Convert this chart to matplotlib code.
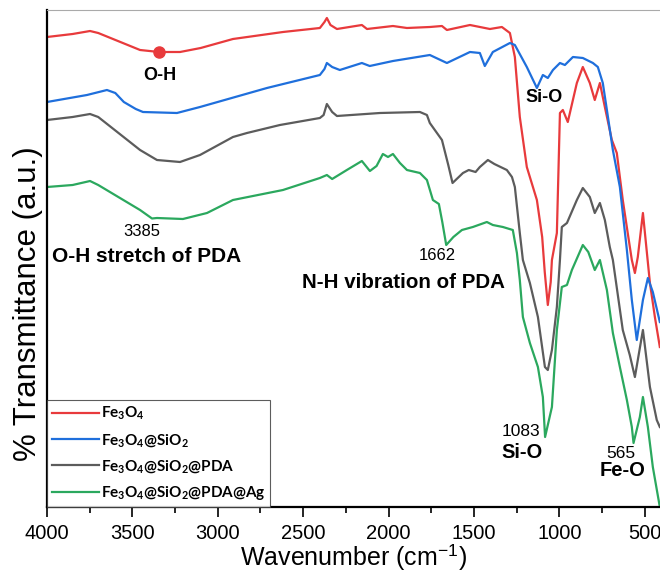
import matplotlib
matplotlib.use("Agg")
import matplotlib.pyplot as plt
from matplotlib.ticker import MultipleLocator, NullLocator

plt.rcParams["font.family"] = ["Liberation Sans", "DejaVu Sans"]
plt.rcParams["mathtext.fontset"] = "custom"
plt.rcParams["mathtext.rm"] = "Liberation Sans"
plt.rcParams["mathtext.bf"] = "Lato:bold"
plt.rcParams["mathtext.default"] = "bf"

# FTIR spectra, wavenumber (cm-1) vs offset transmittance (a.u.)
wn_fe3o4 = [4000, 3850, 3748, 3700, 3455, 3344, 3221, 3100, 2911, 2618, 2402, 2375,
            2361, 2340, 2302, 2156, 2126, 1974, 1892, 1758, 1687, 1658, 1523, 1406,
            1336, 1289, 1260, 1231, 1190, 1131, 1100, 1085, 1067, 1050, 1043, 1014,
            996, 979, 950, 897, 862, 821, 792, 762, 733, 692, 663, 628, 599, 575,
            557, 540, 510, 469, 440, 411]
t_fe3o4 = [470, 473, 476, 474, 457, 455, 455, 459, 468, 475, 479, 485,
           489, 482, 478, 482, 478, 481, 479, 480, 481, 477, 482, 478,
           480, 474, 450, 390, 340, 307, 270, 235, 202, 225, 247, 274,
           394, 397, 385, 424, 440, 424, 407, 424, 400, 367, 354, 307, 274, 247,
           234, 250, 294, 224, 190, 160]

wn_fe3o4_sio2 = [4000, 3766, 3649, 3600, 3550, 3480, 3438, 3239, 3104, 2712, 2402, 2375,
                 2361, 2330, 2285, 2156, 2110, 1974, 1758, 1658, 1523, 1465, 1436, 1389,
                 1289, 1260, 1190, 1131, 1096, 1067, 1037, 996, 967, 920, 862, 803, 774,
                 745, 721, 686, 645, 604, 575, 546, 510, 481, 452, 411]
t_fe3o4_sio2 = [405, 412, 417, 414, 405, 398, 395, 394, 400, 419, 432, 438,
                444, 440, 437, 444, 441, 446, 452, 444, 455, 454, 441, 455,
                464, 462, 440, 419, 432, 429, 437, 444, 442, 450, 449, 444, 440,
                424, 397, 357, 320, 257, 207, 167, 207, 229, 215, 185]

wn_pda = [4000, 3850, 3748, 3700, 3455, 3356, 3221, 3104, 2911, 2829, 2636, 2402,
          2380, 2361, 2330, 2302, 2050, 1816, 1775, 1758, 1687, 1650, 1625, 1564,
          1530, 1490, 1465, 1418, 1380, 1307, 1277, 1260, 1231, 1213, 1172, 1125,
          1084, 1067, 1043, 1014, 996, 985, 955, 897, 862, 821, 792, 762, 733,
          704, 686, 628, 587, 557, 510, 469, 429, 411]
t_pda = [387, 390, 393, 390, 357, 347, 345, 352, 370, 374, 382, 389,
         392, 403, 395, 391, 394, 395, 392, 384, 367, 342, 324, 334,
         337, 335, 340, 347, 343, 337, 330, 320, 274, 247, 224, 190,
         140, 137, 157, 200, 247, 280, 284, 307, 319, 310, 294, 304, 287,
         260, 247, 177, 152, 130, 177, 120, 87, 80]

wn_pda_ag = [4000, 3850, 3748, 3700, 3455, 3385, 3356, 3204, 3063, 2911, 2618, 2402,
             2361, 2330, 2244, 2156, 2109, 2070, 2033, 2003, 1974, 1933, 1892, 1816,
             1775, 1740, 1705, 1685, 1662, 1620, 1570, 1506, 1424, 1389, 1330, 1272,
             1248, 1231, 1213, 1172, 1125, 1096, 1083, 1043, 1014, 985, 955, 926,
             862, 830, 792, 762, 721, 686, 645, 604, 575, 565, 528, 510, 481, 452, 411]
t_pda_ag = [320, 322, 326, 322, 297, 288.5, 289, 288, 294, 307, 317, 329,
            332, 328, 337, 346, 336, 341, 353, 350, 353, 344, 337, 334,
            327, 307, 303, 285, 262, 270, 277, 280, 285, 282, 280, 277,
            254, 227, 190, 164, 140, 110, 70, 100, 177, 220, 222, 237,
            262, 255, 237, 247, 217, 174, 140, 107, 80, 64, 90, 110, 80, 40, 0]

labels = [r"Fe$_3$O$_4$", r"Fe$_3$O$_4$@SiO$_2$",
          r"Fe$_3$O$_4$@SiO$_2$@PDA", r"Fe$_3$O$_4$@SiO$_2$@PDA@Ag"]
colors = ["#e83a3c", "#1f6fdc", "#5c5c5c", "#2ba85e"]

fig = plt.figure(figsize=(6.6, 5.78), dpi=100)
ax = fig.add_axes([47 / 660, 71 / 578, 613 / 660, 497 / 578])

series = [(wn_fe3o4, t_fe3o4), (wn_fe3o4_sio2, t_fe3o4_sio2),
          (wn_pda, t_pda), (wn_pda_ag, t_pda_ag)]
for (x, y), c, lab in zip(series, colors, labels):
    ax.plot(x, y, color=c, lw=1.6, label=lab, solid_joinstyle="round")

# marker on the O-H band of bare Fe3O4
ax.plot(3344, 455, "o", color=colors[0], ms=8, zorder=5)

bold = dict(fontweight="bold", color="black")
ax.text(3338, 431, "O-H", ha="center", va="center", fontsize=13, **bold)
ax.text(1090, 410, "Si-O", ha="center", va="center", fontsize=13, **bold)
ax.text(3444, 275, "3385", ha="center", va="center", fontsize=12)
ax.text(3971, 250, "O-H stretch of PDA", ha="left", va="center", fontsize=15, **bold)
ax.text(1717, 251, "1662", ha="center", va="center", fontsize=12)
ax.text(2507, 224, "N-H vibration of PDA", ha="left", va="center", fontsize=14.8, **bold)
ax.text(1114, 75, "1083", ha="right", va="center", fontsize=12.5)
ax.text(1336, 55, "Si-O", ha="left", va="center", fontsize=14.5, **bold)
ax.text(637, 54, "565", ha="center", va="center", fontsize=12.5)
ax.text(627, 37, "Fe-O", ha="center", va="center", fontsize=14.5, **bold)

ax.set_xlim(4000, 410)
ax.set_ylim(0, 497)
ax.xaxis.set_major_locator(MultipleLocator(500))
ax.xaxis.set_minor_locator(MultipleLocator(250))
ax.yaxis.set_major_locator(NullLocator())
ax.tick_params(axis="x", which="major", length=7, width=1.2, labelsize=14.5, pad=5)
ax.tick_params(axis="x", which="minor", length=4, width=1.2)

ax.spines["left"].set_linewidth(1.6)
ax.spines["bottom"].set_linewidth(1.6)
ax.spines["top"].set_linewidth(0.8)
ax.spines["top"].set_color("#aaaaaa")
ax.spines["right"].set_visible(False)

ax.set_xlabel(r"Wavenumber (cm$^{\mathregular{-1}}$)", fontsize=18, labelpad=0)
ax.set_ylabel("% Transmittance (a.u.)", fontsize=22.5)
ax.yaxis.set_label_coords(-0.006, 0.41)

leg = ax.legend(loc="lower left", borderaxespad=0, fancybox=False,
                handlelength=3.1, handletextpad=0.15, labelspacing=0.62,
                prop=dict(family="Lato", weight="bold", size=11),
                borderpad=0.3)
leg.get_frame().set_edgecolor("#333333")
leg.get_frame().set_linewidth(0.8)
for ln in leg.get_lines():
    ln.set_linewidth(1.6)

fig.savefig("out.png", dpi=100)
